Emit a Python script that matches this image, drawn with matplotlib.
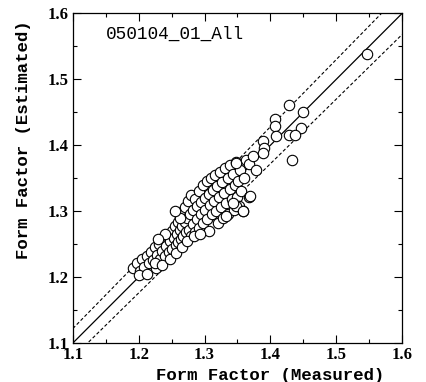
import numpy as np
import matplotlib
matplotlib.use("Agg")
import matplotlib.pyplot as plt
from matplotlib.ticker import MultipleLocator

# Form factor data
measured = [1.192, 1.197, 1.202, 1.205, 1.208, 1.212, 1.215, 1.218, 1.221, 1.224,
            1.226, 1.228, 1.231, 1.233, 1.236, 1.238, 1.240, 1.242, 1.244, 1.246,
            1.248, 1.250, 1.251, 1.253, 1.255, 1.256, 1.258, 1.259, 1.260, 1.262,
            1.263, 1.264, 1.266, 1.267, 1.268, 1.270, 1.271, 1.272, 1.274, 1.275,
            1.276, 1.278, 1.279, 1.280, 1.282, 1.283, 1.285, 1.286, 1.288, 1.289,
            1.291, 1.292, 1.294, 1.295, 1.297, 1.298, 1.300, 1.301, 1.303, 1.304,
            1.306, 1.307, 1.309, 1.310, 1.312, 1.313, 1.315, 1.316, 1.318, 1.319,
            1.321, 1.322, 1.324, 1.325, 1.327, 1.328, 1.330, 1.331, 1.333, 1.335,
            1.336, 1.338, 1.339, 1.341, 1.343, 1.344, 1.346, 1.348, 1.349, 1.351,
            1.352, 1.354, 1.356, 1.358, 1.360,
            1.200, 1.213, 1.225, 1.235, 1.247, 1.257, 1.265, 1.273, 1.284, 1.293,
            1.262, 1.255, 1.240, 1.230,
            1.363, 1.368, 1.368, 1.374, 1.378, 1.348,
            1.547, 1.428, 1.450, 1.407, 1.407, 1.447, 1.428, 1.437, 1.409, 1.389,
            1.391, 1.433, 1.389, 1.348, 1.358, 1.333, 1.369, 1.343]
estimated = [1.214, 1.222, 1.210, 1.227, 1.215, 1.232, 1.221, 1.238, 1.226, 1.245,
             1.214, 1.233, 1.250, 1.227, 1.240, 1.258, 1.232, 1.247, 1.263, 1.238,
             1.254, 1.270, 1.243, 1.260, 1.278, 1.248, 1.265, 1.284, 1.253, 1.272,
             1.292, 1.258, 1.278, 1.300, 1.262, 1.284, 1.307, 1.268, 1.290, 1.316,
             1.272, 1.296, 1.325, 1.262, 1.302, 1.280, 1.318, 1.268, 1.308, 1.288,
             1.330, 1.275, 1.314, 1.296, 1.340, 1.282, 1.320, 1.302, 1.345, 1.288,
             1.326, 1.270, 1.310, 1.350, 1.295, 1.332, 1.316, 1.355, 1.300, 1.338,
             1.282, 1.322, 1.360, 1.306, 1.344, 1.290, 1.328, 1.365, 1.312, 1.350,
             1.295, 1.334, 1.370, 1.318, 1.356, 1.302, 1.340, 1.374, 1.322, 1.345,
             1.308, 1.362, 1.330, 1.301, 1.350,
             1.203, 1.205, 1.222, 1.218, 1.228, 1.236, 1.246, 1.255, 1.262, 1.266,
             1.290, 1.300, 1.265, 1.258,
             1.378, 1.371, 1.322, 1.383, 1.363, 1.373,
             1.539, 1.461, 1.450, 1.440, 1.429, 1.426, 1.415, 1.416, 1.414, 1.406,
             1.396, 1.377, 1.388, 1.308, 1.301, 1.293, 1.323, 1.313]

label_font = "Liberation Mono"
tick_font = "Liberation Serif"

fig = plt.figure(figsize=(4.26, 3.82), dpi=100)
ax = fig.add_axes([0.171, 0.102, 0.773, 0.863])

line = np.array([1.1, 1.6])
ax.plot(line, line, color="black", lw=0.9)
ax.plot(line, line * 1.02, color="black", lw=0.8, ls=(0, (3, 2)))
ax.plot(line, line * 0.98, color="black", lw=0.8, ls=(0, (3, 2)))

ax.plot(measured, estimated, "o", ms=7.5, mfc="white", mec="black", mew=0.8)

ax.set_xlim(1.1, 1.6)
ax.set_ylim(1.1, 1.6)
ax.xaxis.set_major_locator(MultipleLocator(0.1))
ax.yaxis.set_major_locator(MultipleLocator(0.1))
ax.xaxis.set_minor_locator(MultipleLocator(0.05))
ax.yaxis.set_minor_locator(MultipleLocator(0.05))
ax.tick_params(which="both", direction="in", top=True, right=True, width=0.8)
ax.tick_params(which="major", length=6, labelsize=12, pad=3)
ax.tick_params(which="minor", length=3)
for lab in ax.get_xticklabels() + ax.get_yticklabels():
    lab.set_family(tick_font)
    lab.set_weight("bold")
for sp in ax.spines.values():
    sp.set_linewidth(0.9)

# labels sit off-centre in the original
ax.set_xlabel("Form Factor (Measured)", family=label_font, fontsize=12.5,
              fontweight="bold", labelpad=1)
ax.xaxis.set_label_coords(0.60, -0.075)
ax.set_ylabel("Form Factor (Estimated)", family=label_font, fontsize=12.5,
              fontweight="bold")
ax.yaxis.set_label_coords(-0.128, 0.617)
ax.text(0.1, 0.936, "050104_01_All", transform=ax.transAxes, family=label_font,
        fontsize=12.8, va="center", ha="left")

fig.savefig("out.png", dpi=100)
